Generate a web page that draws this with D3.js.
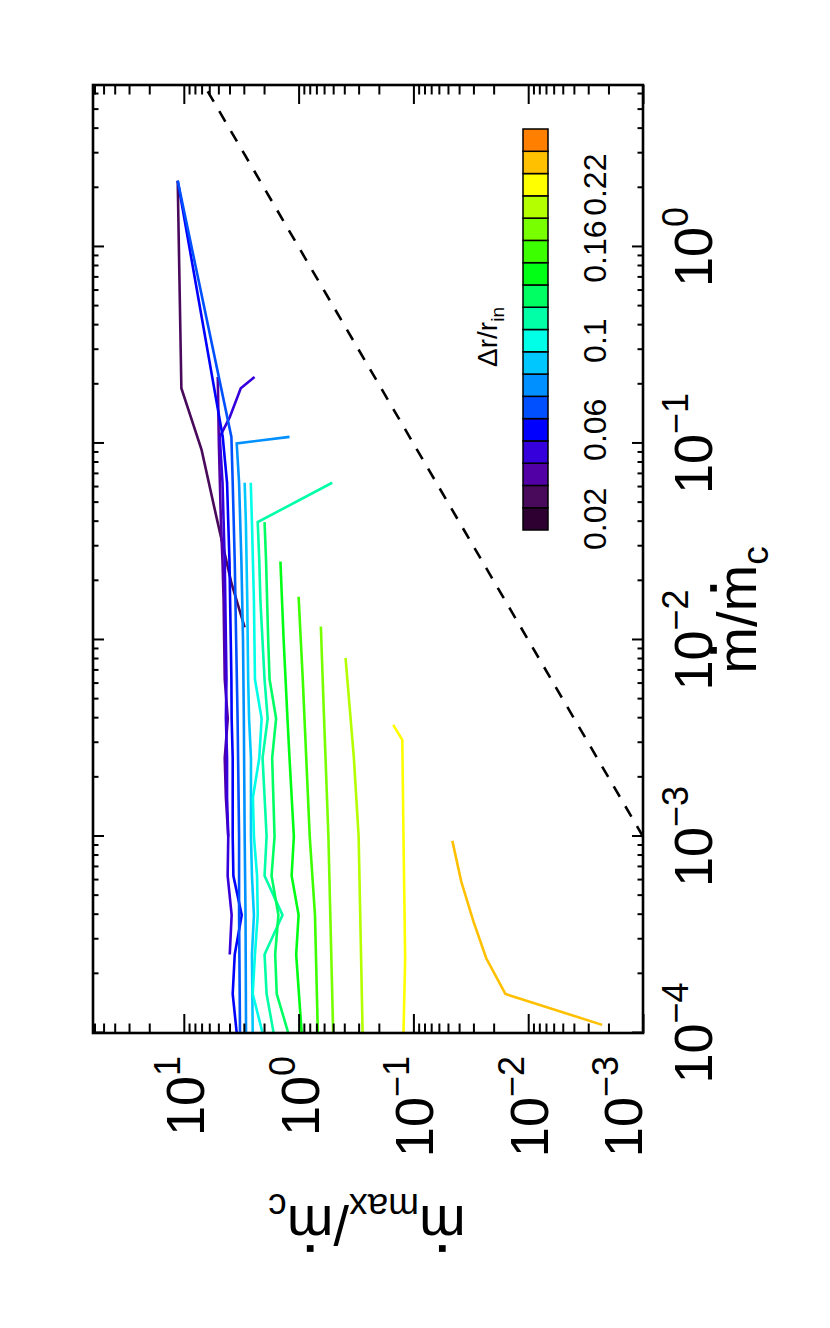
<!DOCTYPE html>
<meta charset="utf-8">
<style>
body { margin: 0; background: #fff; }
svg { font-family: "Liberation Sans", Arial, Helvetica, sans-serif; }
</style>
<svg width="830" height="1328"></svg>
<script src="https://cdn.jsdelivr.net/npm/d3@7/dist/d3.min.js"></script>
<script>

// colour bar: one cell per disc width dr/r_in
var drValues = [0.02, 0.03, 0.04, 0.05, 0.06, 0.07, 0.08, 0.09, 0.1, 0.115, 0.13, 0.145, 0.16, 0.18, 0.2, 0.22, 0.25, 0.28];
var drColors = ["#2e0032", "#4a0a5c", "#5200a6", "#3600dc", "#0000ff", "#0050ff", "#0090ff", "#00c8ff", "#00ffe6",
                "#00ffa6", "#00ff62", "#00ff14", "#3cff00", "#78ff00", "#b4ff00", "#ffff00", "#ffc000", "#ff8000"];
var drTickValues = [0.02, 0.06, 0.1, 0.16, 0.22];
var drTickLabels = ["0.02", "0.06", "0.1", "0.16", "0.22"];

var xTicks = [1e-4, 1e-3, 1e-2, 1e-1, 1];
var yTicks = [1e-3, 1e-2, 1e-1, 1, 10];

// runs: [mdot/mdot_c, mdot_max/mdot_c]
var run003 = [[0.0116, 2.95], [0.0195, 3.85], [0.0423, 5.2], [0.0927, 7.0], [0.191, 10.5], [2.17, 11.3]];
var run004 = [[0.218, 5.06], [0.1, 4.95], [0.0631, 4.85], [0.0398, 4.75], [0.0251, 4.6], [0.0158, 4.5], [0.01, 4.45],
              [6.31e-3, 4.4], [3.98e-3, 4.14], [2.51e-3, 4.4], [1.58e-3, 4.3], [1e-3, 4.1]];
var run005 = [[0.218, 2.42], [0.191, 3.19], [0.136, 3.98], [0.108, 4.86], [0.0631, 4.6], [0.0398, 4.5], [0.0251, 4.4],
              [0.0158, 4.35], [0.01, 4.3], [6.31e-3, 4.25], [3.98e-3, 4.3], [2.51e-3, 4.2], [1.58e-3, 4.2], [1e-3, 4.1],
              [6.31e-4, 4.15], [3.98e-4, 3.83], [2.51e-4, 3.98]];
var run006 = [[2.17, 11.3], [0.108, 4.58], [0.0631, 4.2], [0.0398, 4.1], [0.0251, 4.0], [0.0158, 3.95], [0.01, 3.9],
              [6.31e-3, 3.85], [3.98e-3, 3.83], [2.51e-3, 3.75], [1.58e-3, 3.75], [1e-3, 3.75], [6.31e-4, 3.7],
              [3.98e-4, 3.13], [2.51e-4, 3.6], [1.58e-4, 3.75], [1e-4, 3.46]];
var run007 = [[2.17, 11.3], [0.108, 3.85], [0.0631, 3.75], [0.0251, 3.6], [0.01, 3.5], [3.98e-3, 3.4], [1e-3, 3.3],
              [3.98e-4, 3.3], [1e-4, 3.24]];
var run008 = [[0.108, 1.2], [0.1, 3.46], [0.0631, 3.3], [0.0251, 3.15], [0.01, 3.05], [3.98e-3, 3.0], [1e-3, 2.95],
              [3.98e-4, 2.9], [1e-4, 2.87]];
var run009 = [[0.0631, 2.95], [0.0398, 2.88], [0.0158, 2.8], [6.31e-3, 2.75], [3.98e-3, 2.7], [2.51e-3, 2.6], [1e-3, 2.6],
              [6.31e-4, 2.55], [3.98e-4, 2.45], [2.51e-4, 2.55], [1e-4, 2.51]];
var run010 = [[0.0631, 2.61], [0.0398, 2.55], [0.0158, 2.45], [6.31e-3, 2.4], [3.98e-3, 2.1], [2.51e-3, 2.2], [1.58e-3, 2.5],
              [1e-3, 2.45], [6.31e-4, 2.3], [3.98e-4, 2.27], [2.51e-4, 2.4], [1.58e-4, 2.51], [1e-4, 2.06]];
var run0115 = [[0.0631, 0.51], [0.0398, 2.27], [0.0251, 2.2], [0.0158, 2.15], [6.31e-3, 1.98], [3.98e-3, 1.86], [2.51e-3, 2.06],
               [1e-3, 1.9], [6.31e-4, 1.98], [3.98e-4, 1.38], [2.51e-4, 1.98], [1.58e-4, 1.9], [1e-4, 1.65]];
var run013 = [[0.0398, 1.98], [0.0251, 1.92], [0.0158, 1.88], [0.01, 1.84], [6.31e-3, 1.79], [3.98e-3, 1.57], [2.51e-3, 1.7],
              [1e-3, 1.62], [6.31e-4, 1.72], [3.98e-4, 1.5], [2.51e-4, 1.6], [1.58e-4, 1.55], [1e-4, 1.23]];
var run0145 = [[0.0251, 1.44], [0.01, 1.35], [3.98e-3, 1.25], [2.51e-3, 1.2], [1e-3, 1.1], [6.31e-4, 1.15], [3.98e-4, 1.0],
               [2.51e-4, 1.05], [1e-4, 0.94]];
var run016 = [[0.0166, 1.0], [6.31e-3, 0.92], [1e-3, 0.8], [3.98e-4, 0.72], [1e-4, 0.68]];
var run018 = [[0.0117, 0.64], [3.98e-3, 0.6], [1e-3, 0.55], [1e-4, 0.5]];
var run020 = [[8.1e-3, 0.39], [2.51e-3, 0.33], [1e-3, 0.3], [1e-4, 0.277]];
var run022 = [[3.7e-3, 0.15], [3.1e-3, 0.125], [1e-3, 0.122], [2.4e-4, 0.118], [1e-4, 0.122]];
var run025 = [[9.5e-4, 0.0458], [5.9e-4, 0.0383], [3.7e-4, 0.03], [2.4e-4, 0.0232], [1.58e-4, 0.0158], [1.1e-4, 0.00227]];

var runs = [[0.03, run003], [0.04, run004], [0.05, run005], [0.06, run006], [0.07, run007], [0.08, run008],
            [0.09, run009], [0.1, run010], [0.115, run0115], [0.13, run013], [0.145, run0145], [0.16, run016],
            [0.18, run018], [0.2, run020], [0.22, run022], [0.25, run025]];

// mdot_max = mdot
var equality = [[1e-3, 1e-3], [10, 10]];

var svg = d3.select("svg");

// the figure is drawn in landscape and turned a quarter turn
var g = svg.append("g").attr("transform", "translate(0,1328) rotate(-90)");

var x = d3.scaleLog().domain([1e-4, 6.67]).range([295, 1243]),
    y = d3.scaleLog().domain([1e-3, 61.8]).range([643, 93]);

var color = d3.scaleOrdinal().domain(drValues).range(drColors);

g.append("clipPath").attr("id", "clip")
  .append("rect")
    .attr("x", x.range()[0]).attr("y", y.range()[1])
    .attr("width", x.range()[1] - x.range()[0])
    .attr("height", y.range()[0] - y.range()[1]);

var line = d3.line()
    .x(function(d) { return x(d[0]); })
    .y(function(d) { return y(d[1]); });

var plot = g.append("g").attr("clip-path", "url(#clip)");

plot.selectAll("path.run")
  .data(runs)
  .enter().append("path")
    .attr("class", "run")
    .attr("d", function(d) { return line(d[1]); })
    .attr("fill", "none")
    .attr("stroke", function(d) { return color(d[0]); })
    .attr("stroke-width", 2.6);

plot.append("path")
    .attr("d", line(equality))
    .attr("fill", "none")
    .attr("stroke", "#000")
    .attr("stroke-width", 2.6)
    .attr("stroke-dasharray", "12,11");

// ticks on all four sides, pointing in
function minorTicks(scale) {
  var lo = Math.log10(scale.domain()[0]), hi = Math.log10(scale.domain()[1]), out = [];
  for (var e = Math.floor(lo); e <= Math.ceil(hi); e++)
    for (var m = 2; m <= 9; m++) {
      var v = m * Math.pow(10, e);
      if (v > scale.domain()[0] && v < scale.domain()[1]) out.push(v);
    }
  return out;
}

var xMaj = 11, yMaj = 19;
var axes = [
  [d3.axisBottom(x), "translate(0," + y.range()[0] + ")", xTicks, xMaj],
  [d3.axisTop(x), "translate(0," + y.range()[1] + ")", xTicks, xMaj],
  [d3.axisLeft(y), "translate(" + x.range()[0] + ",0)", yTicks, yMaj],
  [d3.axisRight(y), "translate(" + x.range()[1] + ",0)", yTicks, yMaj]
];
axes.forEach(function(a) {
  var sc = a[0].scale();
  g.append("g").attr("transform", a[1])
      .call(a[0].tickValues(a[2]).tickSize(-a[3]).tickSizeOuter(0).tickFormat(""))
      .call(function(s) { s.select(".domain").remove(); s.selectAll("line").attr("stroke-width", 2); });
  g.append("g").attr("transform", a[1])
      .call(a[0].tickValues(minorTicks(sc)).tickSize(-a[3] / 2).tickSizeOuter(0).tickFormat(""))
      .call(function(s) { s.select(".domain").remove(); s.selectAll("line").attr("stroke-width", 2); });
});

g.append("rect")
    .attr("x", x.range()[0]).attr("y", y.range()[1])
    .attr("width", x.range()[1] - x.range()[0])
    .attr("height", y.range()[0] - y.range()[1])
    .attr("fill", "none").attr("stroke", "#000").attr("stroke-width", 2.6);

function expo(v) { var e = Math.round(Math.log10(v)); return e < 0 ? "\u2212" + (-e) : "" + e; }

// tick labels 10^n
var xl = g.selectAll("text.xl").data(xTicks).enter().append("text")
    .attr("class", "xl")
    .attr("x", function(d) { return x(d); })
    .attr("y", 712)
    .attr("text-anchor", "middle")
    .style("font-size", "54px");
xl.append("tspan").text("10");
xl.append("tspan").attr("dy", -24).style("font-size", "36px").text(expo);

var yl = g.selectAll("text.yl").data(yTicks).enter().append("text")
    .attr("class", "yl")
    .attr("x", 272)
    .attr("y", function(d, i) { return y(d) + 20 - (i === 0 ? 21 : 0); })
    .attr("text-anchor", "end")
    .style("font-size", "54px");
yl.append("tspan").text("10");
yl.append("tspan").attr("dy", -24).style("font-size", "36px").text(expo);

// axis titles: m with an overdot, drawn as a small square above the glyph
function title(transform, parts, size, subSize) {
  var tg = g.append("g").attr("transform", transform);
  var t = tg.append("text").attr("text-anchor", "middle").style("font-size", size + "px");
  var low = false;
  parts.forEach(function(p) {
    var s = t.append("tspan").text(p[0]);
    if (p[1] === "sub") { s.style("font-size", subSize + "px"); if (!low) s.attr("dy", 12); low = true; }
    else { if (low) s.attr("dy", -12); low = false; }
    if (p[1] === "dot") s.classed("dotted", true);
  });
  var dot = size * 0.12;
  t.selectAll("tspan.dotted").each(function() {
    var r = this.getExtentOfChar(0);
    tg.append("rect")
        .attr("x", r.x + r.width / 2 - dot / 2)
        .attr("y", -size * 0.519 - size * 0.24 - dot / 2)
        .attr("width", dot).attr("height", dot);
  });
}

title("translate(718,756)", [["m", "dot"], ["/", ""], ["m", "dot"], ["c", "sub"]], 56, 37);
title("translate(122,367) rotate(-90)", [["m", "dot"], ["max", "sub"], ["/", ""], ["m", "dot"], ["c", "sub"]], 56, 37);

// colour bar
var cb = d3.scaleBand().domain(drValues).range([798, 1199]);
g.selectAll("rect.cell").data(drValues).enter().append("rect")
    .attr("class", "cell")
    .attr("x", function(d) { return cb(d); })
    .attr("y", 523)
    .attr("width", cb.bandwidth())
    .attr("height", 25)
    .attr("fill", function(d) { return color(d); })
    .attr("stroke", "#000")
    .attr("stroke-width", 1.5);

g.selectAll("text.cbl").data(drTickValues).enter().append("text")
    .attr("class", "cbl")
    .attr("x", function(d) { return cb(d) + cb.bandwidth() / 2; })
    .attr("y", 606)
    .attr("text-anchor", "middle")
    .style("font-size", "32px")
    .text(function(d, i) { return drTickLabels[i]; });

var ct = g.append("text")
    .attr("x", 991).attr("y", 497)
    .attr("text-anchor", "middle")
    .style("font-size", "28px");
ct.append("tspan").text("\u0394r/r");
ct.append("tspan").attr("dy", 7).style("font-size", "19px").text("in");

</script>
